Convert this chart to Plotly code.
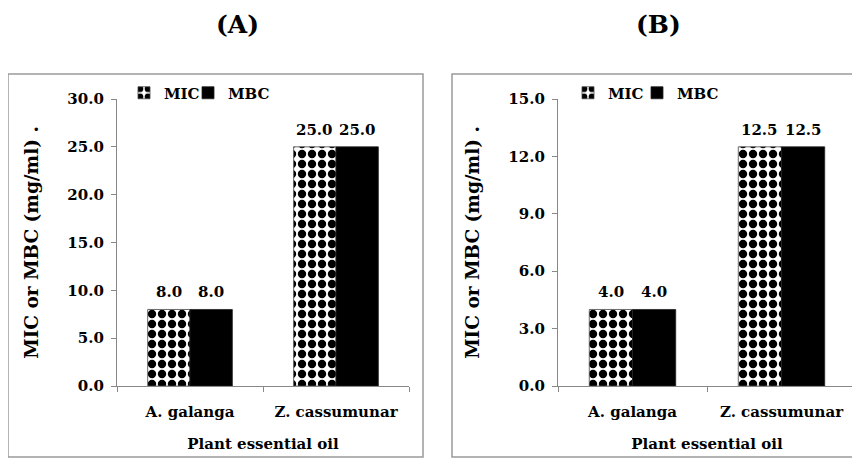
import plotly.graph_objects as go

# ---- data ----
categories = ["A. galanga", "Z. cassumunar"]
mic_a = [8.0, 25.0]
mbc_a = [8.0, 25.0]
mic_b = [4.0, 12.5]
mbc_b = [4.0, 12.5]
yticks_a = [0, 5, 10, 15, 20, 25, 30]
yticks_b = [0, 3, 6, 9, 12, 15]
panel_titles = ["(A)", "(B)"]
series_names = ["MIC", "MBC"]
y_title = "MIC or MBC (mg/ml) ."
x_title = "Plant essential oil"

# the page body has an 8px margin, so the figure is sized to fit the window
OFF = 8
W, H = 860 - OFF, 459 - OFF
FONT = "DejaVu Serif"
BARGAP = 0.42

def px_x(p):
    return (p - OFF) / W

def px_y(p):
    return 1 - (p - OFF) / H

dom_x1 = [px_x(117), px_x(409)]
dom_x2 = [px_x(558), px_x(856)]
dom_y = [px_y(386), px_y(99)]

fig = go.Figure()

checker = dict(shape=".", fgcolor="black", bgcolor="white", size=10, solidity=0.55)

def add_panel(mic, mbc, xa, ya, leg_mic, leg_mbc):
    fig.add_trace(go.Bar(
        x=categories, y=mic, name=series_names[0], xaxis=xa, yaxis=ya, legend=leg_mic,
        marker=dict(color="white", pattern=checker, line=dict(color="#444", width=0.8)),
    ))
    fig.add_trace(go.Bar(
        x=categories, y=mbc, name=series_names[1], xaxis=xa, yaxis=ya, legend=leg_mbc,
        marker=dict(color="black", line=dict(color="#222", width=0.8)),
    ))

add_panel(mic_a, mbc_a, "x", "y", "legend", "legend2")
add_panel(mic_b, mbc_b, "x2", "y2", "legend3", "legend4")

tickfont = dict(family=FONT, size=15, color="black", weight="bold")
axis_common = dict(
    showline=True, linecolor="#888", linewidth=1.2,
    ticks="outside", ticklen=5, tickcolor="#888", tickwidth=1.2,
    showgrid=False, zeroline=False, automargin=False,
    tickfont=tickfont,
)

def xaxis_cfg(dom, anchor):
    return dict(domain=dom, anchor=anchor, type="category", tickson="boundaries",
                ticklabelstandoff=12,
                title=dict(text=x_title, standoff=18, font=tickfont),
                **axis_common)

def yaxis_cfg(dom, anchor, rng, ticks):
    return dict(domain=dom, anchor=anchor, range=rng, tickvals=ticks, tickformat=".1f",
                ticklabelstandoff=4,
                title=dict(text=y_title, standoff=23,
                           font=dict(family=FONT, size=18.5, color="black", weight="bold")),
                **axis_common)

def legend_cfg(xpx):
    return dict(orientation="h", x=px_x(xpx), y=px_y(93), xanchor="left", yanchor="middle",
                font=tickfont, bgcolor="rgba(0,0,0,0)", itemwidth=30,
                tracegroupgap=0)

fig.update_layout(
    template="none",
    width=W, height=H,
    margin=dict(l=0, r=0, t=0, b=0, autoexpand=False),
    paper_bgcolor="white", plot_bgcolor="white",
    barmode="group", bargap=BARGAP, bargroupgap=0,
    showlegend=True,
    xaxis=xaxis_cfg(dom_x1, "y"),
    yaxis=yaxis_cfg(dom_y, "x", [0, 30], yticks_a),
    xaxis2=xaxis_cfg(dom_x2, "y2"),
    yaxis2=yaxis_cfg(dom_y, "x2", [0, 15], yticks_b),
    legend=legend_cfg(124),
    legend2=legend_cfg(188),
    legend3=legend_cfg(568),
    legend4=legend_cfg(637),
)

# value labels above bars
annos = []
for xa, dom, mic, mbc in (("x", dom_x1, mic_a, mbc_a), ("x2", dom_x2, mic_b, mbc_b)):
    ya = "y" if xa == "x" else "y2"
    cat_px = (dom[1] - dom[0]) * W / len(categories)
    shift = cat_px * (1 - BARGAP) / 4
    for i, c in enumerate(categories):
        for val, sgn in ((mic[i], -1), (mbc[i], 1)):
            annos.append(dict(x=c, y=val, xref=xa, yref=ya, text=f"{val:.1f}",
                              showarrow=False, xshift=sgn * shift, yshift=6,
                              yanchor="bottom", font=tickfont))

# panel titles
for t, cx in zip(panel_titles, (237, 658)):
    annos.append(dict(x=px_x(cx), y=px_y(24), xref="paper", yref="paper", text=t,
                      showarrow=False, xanchor="center", yanchor="middle",
                      font=dict(family=FONT, size=25, color="black", weight="bold")))
fig.update_layout(annotations=annos)

# panel frames
for x0, x1 in ((8, 423), (452, 859.5)):
    fig.add_shape(type="rect", xref="paper", yref="paper",
                  x0=px_x(x0), x1=px_x(x1), y0=px_y(457), y1=px_y(74),
                  line=dict(color="#9a9a9a", width=1.5), fillcolor="rgba(0,0,0,0)",
                  layer="below")

fig.write_html("out.html")
